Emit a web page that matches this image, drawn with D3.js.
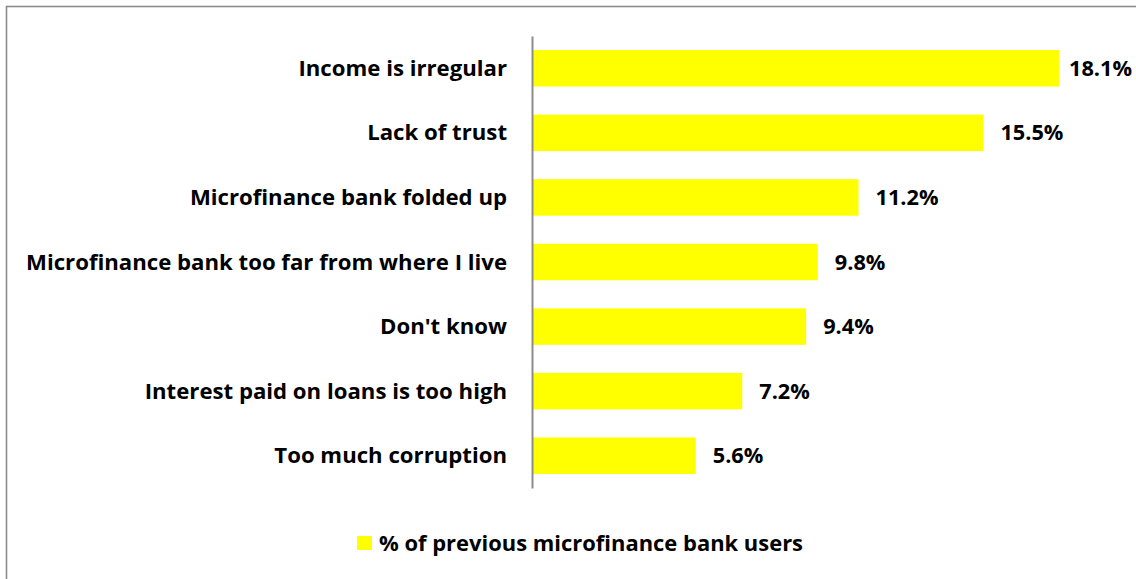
<!DOCTYPE html>
<html>
<head>
<meta charset="utf-8">
<script src="https://cdn.jsdelivr.net/npm/d3@7"></script>
<style>
  html, body { margin: 0; padding: 0; background: #fff; }
  svg { display: block; }
  text { font-family: "Open Sans", Lato, sans-serif; font-weight: bold; fill: #000; }
</style>
</head>
<body>
<svg id="chart" width="1136" height="579"></svg>
<script>
// Reasons given for no longer using a microfinance bank
const categories = [
  "Income is irregular",
  "Lack of trust",
  "Microfinance bank folded up",
  "Microfinance bank too far from where I live",
  "Don't know",
  "Interest paid on loans is too high",
  "Too much corruption"
];
const values = [18.1, 15.5, 11.2, 9.8, 9.4, 7.2, 5.6];
const seriesName = "% of previous microfinance bank users";

const svg = d3.select("#chart");
const W = 1136, H = 579;
const FONT = "'Open Sans', Lato, sans-serif";
const FS = 21;

// outer frame
svg.append("rect")
  .attr("x", 6.5).attr("y", 6.5)
  .attr("width", W + 10).attr("height", H + 10)
  .attr("fill", "none").attr("stroke", "#8c8c8c").attr("stroke-width", 1.6);

const x = d3.scaleLinear().domain([0, 18.1]).range([533, 1059]);
const y = d3.scaleBand().domain(categories).range([36, 488])
  .paddingInner(0.435).paddingOuter(0.2175);

// natural width of a string at the label size
function natural(str) {
  const probe = svg.append("text").attr("font-size", FS).text(str);
  const w = probe.node().getComputedTextLength();
  probe.remove();
  return w;
}
// condensed widths, so the labels keep a tall, narrow look
const kCat = 481 / natural(categories[3]);
const kVal = 63 / natural("18.1%");
const kLeg = 424 / natural(seriesName);
const fmt = d => d.toFixed(1) + "%";

// bars
svg.append("g").selectAll("rect")
  .data(values)
  .join("rect")
  .attr("x", x(0))
  .attr("y", (d, i) => y(categories[i]))
  .attr("width", d => x(d) - x(0))
  .attr("height", y.bandwidth())
  .attr("fill", "#ffff00");

// category axis
const axis = svg.append("g")
  .attr("transform", `translate(${x(0) - 1},0)`)
  .call(d3.axisLeft(y).tickSize(0).tickSizeOuter(0).tickPadding(25));
axis.select(".domain").attr("stroke", "#8c8c8c").attr("stroke-width", 2);
axis.selectAll(".tick text")
  .attr("font-size", FS)
  .attr("font-family", FONT)
  .attr("font-weight", "bold")
  .attr("fill", "#000")
  .attr("dy", "0.36em")
  .attr("lengthAdjust", "spacingAndGlyphs")
  .attr("textLength", d => natural(d) * kCat);

// value labels, kept inside the plot area at the right edge
svg.append("g").selectAll("text")
  .data(values)
  .join("text")
  .each(function (d, i) {
    const w = natural(fmt(d)) * kVal;
    d3.select(this)
      .attr("x", Math.min(x(d) + 17, 1132 - w))
      .attr("y", y(categories[i]) + y.bandwidth() / 2)
      .attr("dy", "0.36em")
      .attr("font-size", FS)
      .attr("lengthAdjust", "spacingAndGlyphs")
      .attr("textLength", w)
      .text(fmt(d));
  });

// legend
const legend = svg.append("g");
legend.append("rect")
  .attr("x", 357).attr("y", 536)
  .attr("width", 15).attr("height", 14)
  .attr("fill", "#ffff00");
legend.append("text")
  .attr("x", 379).attr("y", 543)
  .attr("dy", "0.36em")
  .attr("font-size", FS)
  .attr("lengthAdjust", "spacingAndGlyphs")
  .attr("textLength", natural(seriesName) * kLeg)
  .text(seriesName);
</script>
</body>
</html>
